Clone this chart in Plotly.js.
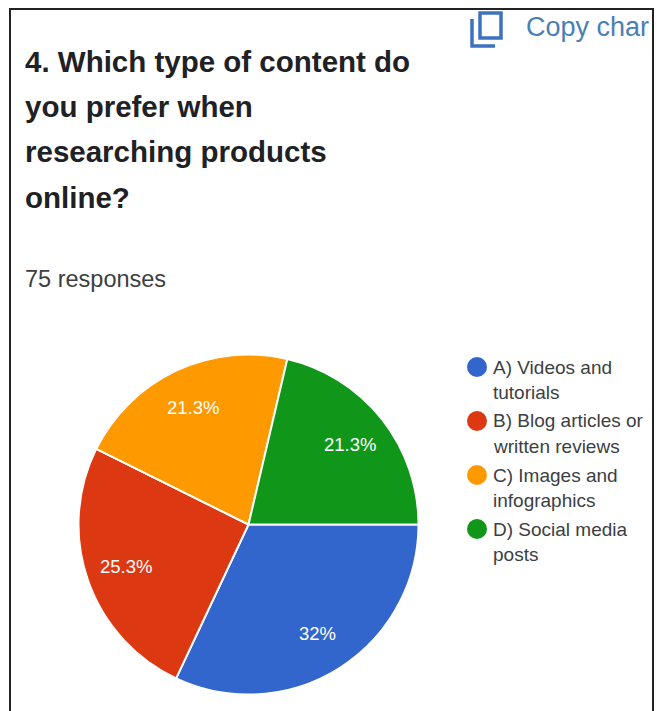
<!DOCTYPE html>
<html>
<head>
<meta charset="utf-8">
<script src="https://cdn.plot.ly/plotly-3.0.1.min.js"></script>
<style>html,body{margin:0;padding:0;background:#fff;overflow:hidden}#chart{width:657px;height:711px}</style>
</head>
<body>
<div id="chart"></div>
<script>
// Survey question 4: response counts out of 75
const categories = ['A) Videos and tutorials', 'B) Blog articles or written reviews', 'C) Images and infographics', 'D) Social media posts'];
const responses = [24, 19, 16, 16];
const sliceColors = ['#3366cc', '#dc3912', '#ff9900', '#109618'];
const legendLines = [['A) Videos and', 'tutorials'], ['B) Blog articles or', 'written reviews'], ['C) Images and', 'infographics'], ['D) Social media', 'posts']];
const questionLines = ['4. Which type of content do', 'you prefer when', 'researching products', 'online?'];
const responseNote = '75 responses';
const copyLabel = 'Copy char';

const W = 657, H = 711;
const px = x => x / W;
const py = y => 1 - y / H;
const FONT = '"Liberation Sans", Arial, sans-serif';

function label(x, y, text, size, color, weight, anchor) {
  return {xref: 'paper', yref: 'paper', x: px(x), y: py(y), text: text, showarrow: false,
    xanchor: anchor || 'left', yanchor: 'middle', align: 'left',
    font: {family: FONT, size: size, color: color, weight: weight || 400}};
}

const annotations = [];
questionLines.forEach((t, i) => annotations.push(label(23, 62 + i * 45, t, 29.5, '#202124', 700)));
annotations.push(label(23, 279, responseNote, 23.5, '#3c4043'));
annotations.push(label(524, 27, copyLabel, 27, '#4a7fb5'));

const shapes = [
  // outer frame, open at the bottom
  {type: 'path', xref: 'paper', yref: 'paper', path: `M${px(10)},${py(711)} L${px(10)},${py(9)} L${px(653)},${py(9)} L${px(653)},${py(711)}`, line: {color: '#222', width: 2}},
  // copy icon
  {type: 'rect', xref: 'paper', yref: 'paper', x0: px(480), x1: px(501), y0: py(13), y1: py(38), line: {color: '#3d72c0', width: 3.5}},
  {type: 'path', xref: 'paper', yref: 'paper', path: `M${px(472)},${py(19)} L${px(472)},${py(46)} L${px(495)},${py(46)}`, line: {color: '#3d72c0', width: 3.5}}
];

legendLines.forEach((lines, i) => {
  const top = 367 + i * 54;
  shapes.push({type: 'circle', xref: 'paper', yref: 'paper', x0: px(467), x1: px(487), y0: py(top - 10), y1: py(top + 10),
    fillcolor: sliceColors[i], line: {width: 0}});
  lines.forEach((t, j) => annotations.push(label(491, top + j * 25, t, 19, '#3c4043')));
});

// Pie geometry in page pixels
const cx = 248.5, cy = 524.5, radius = 170;

// Percentage labels sit at three quarters of the radius, on each slice's mid-angle
const total = responses.reduce((a, b) => a + b, 0);
let cumulative = 0;
responses.forEach(v => {
  const mid = (cumulative + v / 2) / total * 2 * Math.PI;
  cumulative += v;
  const pct = Math.round(v / total * 1000) / 10;
  annotations.push(label(cx + Math.cos(mid) * radius * 0.76, cy + Math.sin(mid) * radius * 0.76,
    pct + '%', 18.5, '#ffffff', 400, 'center'));
});

const pie = {
  type: 'pie',
  labels: categories,
  values: responses,
  sort: false,
  direction: 'clockwise',
  rotation: 90,
  marker: {colors: sliceColors, line: {color: '#ffffff', width: 2}},
  textposition: 'none',
  showlegend: false,
  domain: {x: [px(cx - radius), px(cx + radius)], y: [py(cy + radius), py(cy - radius)]}
};

Plotly.newPlot('chart', [pie], {
  width: W, height: H,
  margin: {l: 0, r: 0, t: 0, b: 0},
  paper_bgcolor: '#ffffff',
  annotations: annotations,
  shapes: shapes
}, {displayModeBar: false, staticPlot: true});
</script>
</body>
</html>
